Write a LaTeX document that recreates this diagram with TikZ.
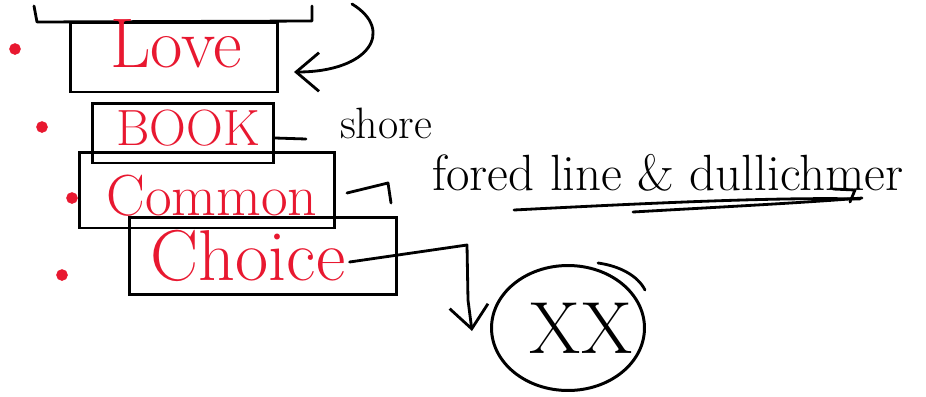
\documentclass[tikz,border=0pt]{standalone}
\usetikzlibrary{arrows.meta,shapes.geometric}
\definecolor{inkred}{RGB}{232,24,48}
\tikzset{
  box/.style={draw, line width=1.7pt, rectangle, inner sep=0pt},
  redtxt/.style={text=inkred, inner sep=0pt},
  inktxt/.style={text=black, inner sep=0pt},
  ink/.style={line width=1.6pt, line cap=round, line join=round},
  dot/.style={circle, draw=inkred, line width=3pt, minimum size=0.12cm, inner sep=0pt},
  barb/.style={-{Straight Barb[length=13pt,width=22pt,line width=1.6pt]}}
}
\begin{document}
\begin{tikzpicture}[x=0.02cm,y=-0.02cm]
\useasboundingbox (0,0) rectangle (926,396);

% bullets
\node[dot] (d1) at (15,49) {};
\node[dot] (d2) at (42,127) {};
\node[dot] (d3) at (72,198) {};
\node[dot] (d4) at (62,275) {};

% partial box at the top
\draw[ink] (34,6) -- (37,22) -- (312,21) -- (312,6);

% boxes
\node[box, minimum width=4.16cm, minimum height=1.4cm] (love) at (174,57) {};
\node[box, minimum width=3.62cm, minimum height=1.2cm] (book) at (183,133) {};
\node[box, minimum width=5.1cm, minimum height=1.52cm] (common) at (207,190) {};
\node[box, minimum width=5.34cm, minimum height=1.54cm] (choice) at (263,256) {};
\node[ellipse, draw, line width=1.7pt, minimum width=3.06cm, minimum height=2.5cm, inner sep=0pt] (xx) at (568,328) {};
\draw[ink] (598,263) .. controls (620,266) and (638,276) .. (645,290);

% texts
\node[redtxt, font=\fontsize{40}{42}\selectfont] (lovet) at (176,44) {Love};
\node[redtxt, font=\fontsize{29}{31}\selectfont] (bookt) at (188,128) {BOOK};
\node[redtxt, font=\fontsize{33}{35}\selectfont] (commont) at (212,196) {Common};
\node[redtxt, font=\fontsize{41}{43}\selectfont] (choicet) at (248,256) {Choice};
\node[inktxt, font=\fontsize{42}{44}\selectfont] (xxt) at (581,328) {XX};
\node[inktxt, font=\fontsize{25}{27}\selectfont] (shore) at (386,123) {shore};
\node[inktxt, font=\fontsize{29}{31}\selectfont] (fored) at (668,173) {fored line \& dullichmer};

% curved arrow into Love
\coordinate (topstart) at (352,4);
\coordinate (lovetip) at (294,72);
\draw[ink, barb] (topstart) .. controls (395,30) and (370,72) .. (lovetip);

% Book -> shore
\coordinate (shoreend) at (306,139);
\draw[ink] ([yshift=-0.1cm]book.east) -- (shoreend);

% Common -> fored line
\coordinate (cstart) at (347,193);
\coordinate (ctip) at (388,183);
\draw[ink] (cstart) -- (ctip) -- (391,203);

% underlines
\draw[ink] (514,210) .. controls (650,203) and (780,197) .. (860,199);
\draw[ink] (633,212) .. controls (720,207) and (800,203) .. (862,198);
\draw[ink] (833,189) -- (855,190) -- (850,202);

% Choice -> XX
\coordinate (xxtip) at (472,331);
\draw[ink, barb] (choicet.east) ++(4,6) -- (467,245) -- (468,300) -- (xxtip);
\end{tikzpicture}
\end{document}
